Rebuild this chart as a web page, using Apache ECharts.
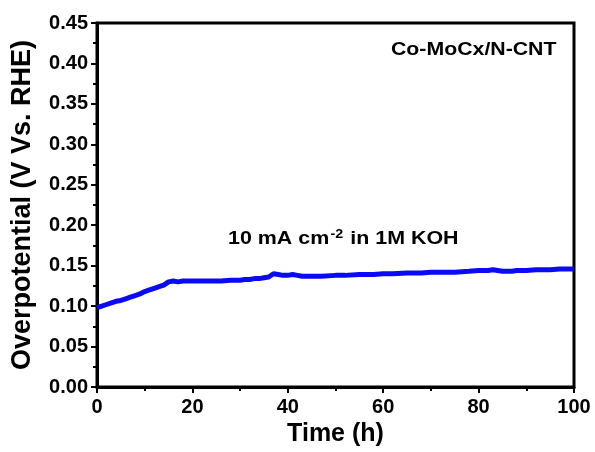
<!DOCTYPE html>
<html><head><meta charset="utf-8">
<script src="https://cdn.jsdelivr.net/npm/echarts@6/dist/echarts.min.js"></script>
<style>html,body{margin:0;padding:0;background:#fff}#c{width:595px;height:452px}</style>
</head><body><div id="c"></div>
<script>
const timeH = [0,1,2,3,4,5,6,7,8,9,10,11,12,13,14,15,16,17,18,19,20,22,24,26,28,30,31,32,33,34,35,36,37,38,39,40,41,42,43,44,45,47,50,52,55,58,60,62,65,68,70,72,75,78,80,82,83,84,85,86,87,88,90,92,95,97,100];
const overpotential = [0.098,0.100,0.102,0.104,0.106,0.107,0.109,0.111,0.113,0.115,0.118,0.120,0.122,0.124,0.126,0.130,0.131,0.130,0.131,0.131,0.131,0.131,0.131,0.131,0.132,0.132,0.133,0.133,0.134,0.134,0.135,0.136,0.140,0.139,0.138,0.138,0.139,0.138,0.137,0.137,0.137,0.137,0.138,0.138,0.139,0.139,0.140,0.140,0.141,0.141,0.142,0.142,0.142,0.143,0.144,0.144,0.145,0.144,0.143,0.143,0.143,0.144,0.144,0.145,0.145,0.146,0.146];
const xTicks = [0,20,40,60,80,100];
const yTicks = [0,0.05,0.1,0.15,0.2,0.25,0.3,0.35,0.4,0.45];
const F = 'Liberation Sans, Arial, sans-serif';
const chart = echarts.init(document.getElementById('c'));
chart.setOption({
  animation:false,
  grid:{left:97,top:23,right:21,bottom:65},
  xAxis:{type:'value',min:0,max:100,interval:20,
    name:'Time (h)',nameLocation:'middle',nameGap:33,
    nameTextStyle:{fontFamily:F,fontWeight:'bold',fontSize:25,color:'#000'},
    axisLine:{lineStyle:{color:'#000',width:3}},
    axisTick:{show:true,length:6,lineStyle:{color:'#000',width:2}},
    minorTick:{show:true,splitNumber:2,length:4,lineStyle:{color:'#000',width:2}},
    axisLabel:{fontFamily:F,fontWeight:'bold',fontSize:20,color:'#000',margin:10,formatter:v=>xTicks.includes(v)?String(v):''},
    splitLine:{show:false}},
  yAxis:{type:'value',min:0,max:0.45,interval:0.05,
    name:'Overpotential (V Vs. RHE)',nameLocation:'middle',nameGap:61,
    nameTextStyle:{fontFamily:F,fontWeight:'bold',fontSize:27,color:'#000'},
    axisLine:{lineStyle:{color:'#000',width:3}},
    axisTick:{show:true,length:6,lineStyle:{color:'#000',width:2}},
    minorTick:{show:true,splitNumber:2,length:4,lineStyle:{color:'#000',width:2}},
    axisLabel:{fontFamily:F,fontWeight:'bold',fontSize:20,color:'#000',margin:9,formatter:v=>yTicks.some(t=>Math.abs(t-v)<1e-9)?v.toFixed(2):''},
    splitLine:{show:false}},
  series:[{type:'line',data:timeH.map((t,i)=>[t,overpotential[i]]),showSymbol:false,
    lineStyle:{color:'#0a0af5',width:5},itemStyle:{color:'#0a0af5'}}],
  graphic:[
    {type:'rect',shape:{x:97,y:23,width:477,height:364},style:{fill:'none',stroke:'#000',lineWidth:3},silent:true},
    {type:'text',x:391,y:40,scaleX:1.12,style:{text:'Co-MoCx/N-CNT',fontFamily:F,fontWeight:'bold',fontSize:19,fill:'#000'}},
    {type:'text',x:228,y:229,scaleX:1.19,style:{text:'{a|10 mA cm}{s|-2}{a| in 1M KOH}',fill:'#000',
      rich:{a:{fontFamily:F,fontWeight:'bold',fontSize:18,fill:'#000'},s:{fontFamily:F,fontWeight:'bold',fontSize:12,fill:'#000',verticalAlign:'top',padding:[0,1,8,1]}}}}
  ]
});
</script></body></html>
